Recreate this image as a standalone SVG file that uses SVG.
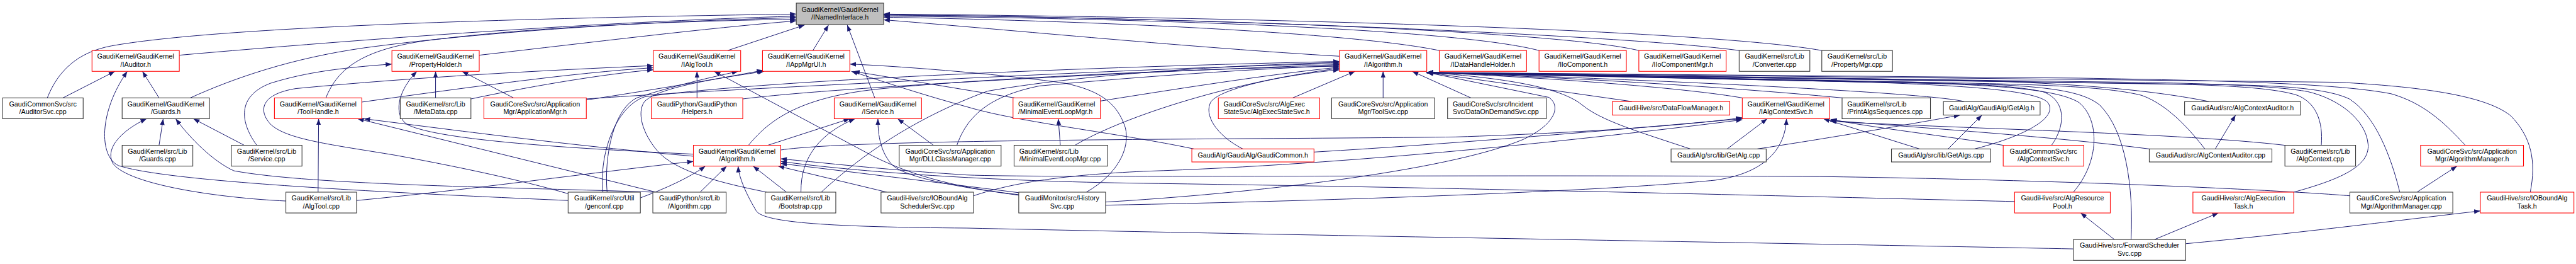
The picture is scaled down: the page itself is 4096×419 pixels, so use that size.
<svg xmlns="http://www.w3.org/2000/svg" width="4096" height="419" viewBox="0 0 4096 419">
<defs>
<style>
rect{fill:#fff;stroke-width:1.3}
.r rect{stroke:#ff0000}
.k rect{stroke:#333}
#n_root rect{fill:#bfbfbf;stroke:#333}
text{font-family:"Liberation Sans",Arial,Helvetica,sans-serif;font-size:13px;fill:#000}
.c{text-anchor:middle}
.l{text-anchor:start}
#edges path{fill:none;stroke:#191970;stroke-width:1.2;marker-end:url(#ah)}
</style>
<marker id="ah" markerUnits="userSpaceOnUse" markerWidth="13" markerHeight="10" refX="12" refY="5" orient="auto"><path d="M0,0.5 L12,5 L0,9.5 z" fill="#191970"/></marker>
</defs>
<rect x="0" y="0" width="4096" height="419" style="fill:#fff;stroke:none"/>
<g transform="scale(0.82647)">
<g id="edges">
<path d="M91,188 C112,135 150,100 215,88 C400,55 900,36 1532,27"/>
<path d="M345,106 C700,75 1150,42 1532,31"/>
<path d="M366,188 C450,150 560,112 700,92 C900,65 1200,42 1532,34"/>
<path d="M627,188 C650,130 700,95 820,78 C1000,55 1250,41 1532,37"/>
<path d="M922,106 C1150,80 1350,55 1532,40"/>
<path d="M1400,97 L1548,48"/>
<path d="M1564,97 L1594,48"/>
<path d="M1683,188 L1630,48"/>
<path d="M2577,108 C2300,92 1950,58 1700,38"/>
<path d="M2769,97 C2600,62 2100,40 1700,33"/>
<path d="M2961,97 C2800,55 2200,35 1700,31"/>
<path d="M3153,97 C3000,60 2300,34 1700,29"/>
<path d="M3346,97 C3150,70 2400,36 1700,28"/>
<path d="M3505,97 C3300,60 2500,34 1700,27"/>
<path d="M121,188 L221,137"/>
<path d="M306,188 L274,137"/>
<path d="M1093,385 C700,368 320,348 228,318 C190,300 190,215 245,137"/>
<path d="M306,279 L314,228"/>
<path d="M470,279 L372,228"/>
<path d="M550,386 C420,380 250,355 218,315 C200,285 235,250 282,228"/>
<path d="M1258,369 C1000,360 600,356 450,328 C410,310 365,265 338,228"/>
<path d="M494,279 C462,235 455,185 520,160 C590,138 660,130 754,123"/>
<path d="M838,188 L838,137"/>
<path d="M988,188 L889,137"/>
<path d="M1334,296 C1100,285 850,270 785,240 C755,222 765,175 802,137"/>
<path d="M612,369 L613,228"/>
<path d="M1334,300 C1100,280 860,248 700,228"/>
<path d="M1262,369 L688,228"/>
<path d="M1093,372 C1000,345 870,318 760,298 C640,278 550,268 520,238 C495,210 505,180 570,170 C800,148 1050,135 1257,126"/>
<path d="M696,196 C900,168 1100,140 1257,130"/>
<path d="M906,190 C1000,170 1150,143 1257,134"/>
<path d="M1341,188 L1341,137"/>
<path d="M1962,374 C1850,362 1760,340 1680,300 L1374,137"/>
<path d="M1168,369 C1162,300 1180,210 1225,188 C1300,163 1380,146 1420,137"/>
<path d="M1128,192 C1260,172 1390,150 1468,135"/>
<path d="M1475,369 C1390,352 1300,330 1265,290 C1235,255 1225,215 1240,195 C1270,165 1400,148 1470,137"/>
<path d="M1952,188 L1642,137"/>
<path d="M2090,369 C2150,335 2175,285 2165,245 C2150,200 2120,175 2050,160 C1950,145 1750,128 1635,123"/>
<path d="M2297,286 C2150,255 1960,235 1860,205 C1760,178 1680,150 1638,137"/>
<path d="M1477,279 L1635,228"/>
<path d="M1541,369 C1540,300 1580,255 1645,228"/>
<path d="M1961,375 C1850,360 1740,342 1715,315 C1695,292 1689,262 1689,228"/>
<path d="M1796,279 L1727,228"/>
<path d="M1440,279 C1480,230 1540,185 1700,170 C1900,150 2300,132 2577,127"/>
<path d="M1128,190 C1300,178 1500,168 1600,163 C1900,148 2300,128 2577,122"/>
<path d="M1429,190 C1600,168 2200,137 2577,124"/>
<path d="M1841,279 C1860,225 1900,185 2000,165 C2250,142 2450,131 2577,126"/>
<path d="M2117,194 C2300,165 2450,142 2577,129"/>
<path d="M2068,279 C2150,230 2350,160 2577,131"/>
<path d="M2391,286 C2340,260 2315,220 2330,195 C2350,170 2460,145 2577,134"/>
<path d="M1580,369 C1650,305 1750,230 1900,175 C2100,140 2400,124 2577,120"/>
<path d="M1160,369 C1152,295 1185,205 1240,186 C1500,150 2200,126 2577,118"/>
<path d="M2487,188 L2607,137"/>
<path d="M2661,188 L2661,137"/>
<path d="M2830,188 L2717,137"/>
<path d="M2127,388 C2400,372 2780,330 2930,268 C2990,240 3005,205 2980,187 L2745,139"/>
<path d="M3140,195 L2745,139"/>
<path d="M3252,286 C3150,252 3080,232 3042,200 C3000,168 2900,150 2745,139"/>
<path d="M3352,188 C3250,170 3000,150 2745,139"/>
<path d="M3545,188 C3300,165 3000,148 2745,139"/>
<path d="M3779,195 C3700,176 3100,150 2745,139"/>
<path d="M3799,286 C3900,260 3960,225 3940,197 C3920,175 3800,165 3600,158 L2745,139"/>
<path d="M3947,279 C3975,240 3975,192 3930,176 C3880,165 3800,162 3700,158 L2745,139"/>
<path d="M3989,369 C4040,310 4040,230 4000,197 C3960,172 3850,165 3720,160 L2745,139"/>
<path d="M4100,460 C4105,360 4090,252 4040,202 C4010,177 3950,168 3850,163 L2745,140"/>
<path d="M4242,286 C4200,232 4160,197 4120,183 C4060,168 3950,163 3800,160 L2745,140"/>
<path d="M4250,195 C4150,175 4000,158 3720,153 L2745,139"/>
<path d="M4466,279 C4470,232 4455,197 4420,183 C4380,170 4300,165 4200,162 L2745,140"/>
<path d="M4413,369 C4500,345 4560,320 4556,277 C4552,230 4500,190 4440,176 C4380,165 4250,160 4100,158 L2745,140"/>
<path d="M4617,369 C4600,300 4570,222 4520,190 C4480,171 4400,165 4300,163 L2745,140"/>
<path d="M4743,279 C4700,232 4660,197 4600,180 C4500,161 4300,155 4000,150 L2745,139"/>
<path d="M4868,369 C4880,310 4870,262 4830,222 C4780,182 4650,166 4500,158 L2745,139"/>
<path d="M3693,286 L3508,228"/>
<path d="M3854,279 C3750,262 3600,245 3522,229"/>
<path d="M4135,286 C3950,262 3700,246 3521,231"/>
<path d="M4396,279 C4200,256 3800,248 3521,233"/>
<path d="M1502,288 C1650,266 2400,268 2800,263 C3050,255 3250,240 3352,226"/>
<path d="M2528,292 C2800,276 3100,250 3352,228"/>
<path d="M1873,376 C1950,350 2050,336 2200,329 C2600,316 3050,268 3352,230"/>
<path d="M3323,286 L3400,228"/>
<path d="M2127,394 C2600,385 3100,366 3300,346 C3400,332 3435,282 3437,228"/>
<path d="M3381,286 C3500,268 3680,238 3771,221"/>
<path d="M3748,286 L3813,221"/>
<path d="M4262,286 L4301,221"/>
<path d="M4650,369 L4727,319"/>
<path d="M4068,460 L4003,409"/>
<path d="M4145,460 L4268,409"/>
<path d="M4205,468 C4400,450 4600,425 4772,405"/>
<path d="M2040,279 L2036,228"/>
<path d="M686,385 C900,365 1150,330 1334,310"/>
<path d="M1232,380 C1280,362 1325,342 1357,319"/>
<path d="M1347,369 L1398,319"/>
<path d="M1513,369 L1449,319"/>
<path d="M3989,478 C3500,468 2500,452 1860,438 C1600,436 1470,428 1455,405 C1440,380 1422,345 1420,319"/>
<path d="M1706,369 L1497,319"/>
<path d="M4521,376 C4400,366 4000,346 3500,339 C2800,335 2000,342 1860,336 C1700,326 1580,312 1502,305"/>
<path d="M3876,387 C3500,378 2800,360 2200,352 C1900,348 1650,330 1502,310"/>
<path d="M1960,370 C1800,350 1620,328 1502,314"/>
</g>
<g id="n_root"><rect x="1532" y="6" width="168" height="41"/><text class="c" x="1616" y="23">GaudiKernel/GaudiKernel<tspan x="1616" y="38">/INamedInterface.h</tspan></text></g>
<g id="n_iauditor" class="r"><rect x="177" y="97" width="168" height="40"/><text class="c" x="261" y="113">GaudiKernel/GaudiKernel<tspan x="261" y="128">/IAuditor.h</tspan></text></g>
<g id="n_propertyholder" class="r"><rect x="754" y="97" width="168" height="40"/><text class="c" x="838" y="113">GaudiKernel/GaudiKernel<tspan x="838" y="128">/PropertyHolder.h</tspan></text></g>
<g id="n_ialgtool" class="r"><rect x="1257" y="97" width="168" height="40"/><text class="c" x="1341" y="113">GaudiKernel/GaudiKernel<tspan x="1341" y="128">/IAlgTool.h</tspan></text></g>
<g id="n_iappmgrui" class="r"><rect x="1467" y="97" width="168" height="40"/><text class="c" x="1551" y="113">GaudiKernel/GaudiKernel<tspan x="1551" y="128">/IAppMgrUI.h</tspan></text></g>
<g id="n_ialgorithm" class="r"><rect x="2577" y="97" width="168" height="40"/><text class="c" x="2661" y="113">GaudiKernel/GaudiKernel<tspan x="2661" y="128">/IAlgorithm.h</tspan></text></g>
<g id="n_idatahandleholder" class="r"><rect x="2769" y="97" width="168" height="40"/><text class="c" x="2853" y="113">GaudiKernel/GaudiKernel<tspan x="2853" y="128">/IDataHandleHolder.h</tspan></text></g>
<g id="n_iiocomponent" class="r"><rect x="2961" y="97" width="168" height="40"/><text class="c" x="3045" y="113">GaudiKernel/GaudiKernel<tspan x="3045" y="128">/IIoComponent.h</tspan></text></g>
<g id="n_iiocomponentmgr" class="r"><rect x="3153" y="97" width="168" height="40"/><text class="c" x="3237" y="113">GaudiKernel/GaudiKernel<tspan x="3237" y="128">/IIoComponentMgr.h</tspan></text></g>
<g id="n_converter" class="k"><rect x="3346" y="97" width="136" height="40"/><text class="c" x="3414" y="113">GaudiKernel/src/Lib<tspan x="3414" y="128">/Converter.cpp</tspan></text></g>
<g id="n_propertymgr" class="k"><rect x="3505" y="97" width="136" height="40"/><text class="c" x="3573" y="113">GaudiKernel/src/Lib<tspan x="3573" y="128">/PropertyMgr.cpp</tspan></text></g>
<g id="n_auditorsvc" class="k"><rect x="5" y="188" width="155" height="40"/><text class="c" x="82.5" y="204">GaudiCommonSvc/src<tspan x="82.5" y="219">/AuditorSvc.cpp</tspan></text></g>
<g id="n_guards_h" class="k"><rect x="235" y="188" width="168" height="40"/><text class="c" x="319" y="204">GaudiKernel/GaudiKernel<tspan x="319" y="219">/Guards.h</tspan></text></g>
<g id="n_toolhandle" class="r"><rect x="528" y="188" width="168" height="40"/><text class="c" x="612" y="204">GaudiKernel/GaudiKernel<tspan x="612" y="219">/ToolHandle.h</tspan></text></g>
<g id="n_metadata" class="k"><rect x="770" y="188" width="136" height="40"/><text class="c" x="838" y="204">GaudiKernel/src/Lib<tspan x="838" y="219">/MetaData.cpp</tspan></text></g>
<g id="n_applicationmgr_h" class="r"><rect x="931" y="188" width="197" height="40"/><text class="c" x="1029.5" y="204">GaudiCoreSvc/src/Application<tspan x="1029.5" y="219">Mgr/ApplicationMgr.h</tspan></text></g>
<g id="n_helpers" class="r"><rect x="1253" y="188" width="176" height="40"/><text class="c" x="1341" y="204">GaudiPython/GaudiPython<tspan x="1341" y="219">/Helpers.h</tspan></text></g>
<g id="n_iservice" class="r"><rect x="1605" y="188" width="168" height="40"/><text class="c" x="1689" y="204">GaudiKernel/GaudiKernel<tspan x="1689" y="219">/IService.h</tspan></text></g>
<g id="n_minimaleventloopmgr_h" class="r"><rect x="1949" y="188" width="168" height="40"/><text class="l" x="1959" y="204">GaudiKernel/GaudiKernel<tspan x="1959" y="219">/MinimalEventLoopMgr.h</tspan></text></g>
<g id="n_algexecstatesvc" class="r"><rect x="2344" y="188" width="195" height="40"/><text class="l" x="2354" y="204">GaudiCoreSvc/src/AlgExec<tspan x="2354" y="219">StateSvc/AlgExecStateSvc.h</tspan></text></g>
<g id="n_toolsvc" class="k"><rect x="2562" y="188" width="198" height="40"/><text class="c" x="2661" y="204">GaudiCoreSvc/src/Application<tspan x="2661" y="219">Mgr/ToolSvc.cpp</tspan></text></g>
<g id="n_dataondemandsvc" class="k"><rect x="2785" y="188" width="190" height="40"/><text class="l" x="2795" y="204">GaudiCoreSvc/src/Incident<tspan x="2795" y="219">Svc/DataOnDemandSvc.cpp</tspan></text></g>
<g id="n_dataflowmanager" class="r"><rect x="3102" y="195" width="226" height="26"/><text class="c" x="3215" y="212">GaudiHive/src/DataFlowManager.h</text></g>
<g id="n_ialgcontextsvc" class="r"><rect x="3352" y="188" width="168" height="40"/><text class="c" x="3436" y="204">GaudiKernel/GaudiKernel<tspan x="3436" y="219">/IAlgContextSvc.h</tspan></text></g>
<g id="n_printalgssequences" class="k"><rect x="3544" y="188" width="170" height="40"/><text class="l" x="3554" y="204">GaudiKernel/src/Lib<tspan x="3554" y="219">/PrintAlgsSequences.cpp</tspan></text></g>
<g id="n_getalg_h" class="k"><rect x="3739" y="195" width="186" height="26"/><text class="c" x="3832" y="212">GaudiAlg/GaudiAlg/GetAlg.h</text></g>
<g id="n_algcontextauditor_h" class="k"><rect x="4203" y="195" width="223" height="26"/><text class="c" x="4314.5" y="212">GaudiAud/src/AlgContextAuditor.h</text></g>
<g id="n_guards_cpp" class="k"><rect x="235" y="279" width="136" height="40"/><text class="c" x="303" y="295">GaudiKernel/src/Lib<tspan x="303" y="310">/Guards.cpp</tspan></text></g>
<g id="n_service_cpp" class="k"><rect x="445" y="279" width="136" height="40"/><text class="c" x="513" y="295">GaudiKernel/src/Lib<tspan x="513" y="310">/Service.cpp</tspan></text></g>
<g id="n_algorithm_h" class="r"><rect x="1334" y="279" width="168" height="40"/><text class="c" x="1418" y="295">GaudiKernel/GaudiKernel<tspan x="1418" y="310">/Algorithm.h</tspan></text></g>
<g id="n_dllclassmanager" class="k"><rect x="1730" y="279" width="196" height="40"/><text class="c" x="1828" y="295">GaudiCoreSvc/src/Application<tspan x="1828" y="310">Mgr/DLLClassManager.cpp</tspan></text></g>
<g id="n_minimaleventloopmgr_cpp" class="k"><rect x="1951" y="279" width="180" height="40"/><text class="l" x="1961" y="295">GaudiKernel/src/Lib<tspan x="1961" y="310">/MinimalEventLoopMgr.cpp</tspan></text></g>
<g id="n_gaudicommon" class="r"><rect x="2293" y="286" width="235" height="25"/><text class="c" x="2410.5" y="303">GaudiAlg/GaudiAlg/GaudiCommon.h</text></g>
<g id="n_getalg_cpp" class="k"><rect x="3215" y="286" width="183" height="25"/><text class="c" x="3306.5" y="303">GaudiAlg/src/lib/GetAlg.cpp</text></g>
<g id="n_getalgs_cpp" class="k"><rect x="3639" y="286" width="191" height="25"/><text class="c" x="3734.5" y="303">GaudiAlg/src/lib/GetAlgs.cpp</text></g>
<g id="n_algcontextsvc_h" class="r"><rect x="3854" y="279" width="155" height="40"/><text class="c" x="3931.5" y="295">GaudiCommonSvc/src<tspan x="3931.5" y="310">/AlgContextSvc.h</tspan></text></g>
<g id="n_algcontextauditor_cpp" class="k"><rect x="4135" y="286" width="236" height="25"/><text class="c" x="4253" y="303">GaudiAud/src/AlgContextAuditor.cpp</text></g>
<g id="n_algcontext_cpp" class="k"><rect x="4396" y="279" width="136" height="40"/><text class="c" x="4464" y="295">GaudiKernel/src/Lib<tspan x="4464" y="310">/AlgContext.cpp</tspan></text></g>
<g id="n_algorithmmanager_h" class="r"><rect x="4657" y="279" width="198" height="40"/><text class="c" x="4756" y="295">GaudiCoreSvc/src/Application<tspan x="4756" y="310">Mgr/AlgorithmManager.h</tspan></text></g>
<g id="n_algtool_cpp" class="k"><rect x="550" y="369" width="136" height="40"/><text class="c" x="618" y="385">GaudiKernel/src/Lib<tspan x="618" y="400">/AlgTool.cpp</tspan></text></g>
<g id="n_genconf" class="k"><rect x="1093" y="369" width="139" height="40"/><text class="c" x="1162.5" y="385">GaudiKernel/src/Util<tspan x="1162.5" y="400">/genconf.cpp</tspan></text></g>
<g id="n_gp_algorithm_cpp" class="k"><rect x="1256" y="369" width="141" height="40"/><text class="c" x="1326.5" y="385">GaudiPython/src/Lib<tspan x="1326.5" y="400">/Algorithm.cpp</tspan></text></g>
<g id="n_bootstrap" class="k"><rect x="1472" y="369" width="136" height="40"/><text class="c" x="1540" y="385">GaudiKernel/src/Lib<tspan x="1540" y="400">/Bootstrap.cpp</tspan></text></g>
<g id="n_ioboundalgschedulersvc" class="k"><rect x="1695" y="369" width="178" height="40"/><text class="c" x="1784" y="385">GaudiHive/src/IOBoundAlg<tspan x="1784" y="400">SchedulerSvc.cpp</tspan></text></g>
<g id="n_historysvc" class="k"><rect x="1960" y="369" width="167" height="40"/><text class="c" x="2043.5" y="385">GaudiMonitor/src/History<tspan x="2043.5" y="400">Svc.cpp</tspan></text></g>
<g id="n_algresourcepool" class="r"><rect x="3876" y="369" width="184" height="40"/><text class="c" x="3968" y="385">GaudiHive/src/AlgResource<tspan x="3968" y="400">Pool.h</tspan></text></g>
<g id="n_algexecutiontask" class="r"><rect x="4219" y="369" width="194" height="40"/><text class="c" x="4316" y="385">GaudiHive/src/AlgExecution<tspan x="4316" y="400">Task.h</tspan></text></g>
<g id="n_algorithmmanager_cpp" class="k"><rect x="4521" y="369" width="198" height="40"/><text class="c" x="4620" y="385">GaudiCoreSvc/src/Application<tspan x="4620" y="400">Mgr/AlgorithmManager.cpp</tspan></text></g>
<g id="n_ioboundalgtask" class="r"><rect x="4772" y="369" width="180" height="40"/><text class="c" x="4862" y="385">GaudiHive/src/IOBoundAlg<tspan x="4862" y="400">Task.h</tspan></text></g>
<g id="n_forwardschedulersvc" class="k"><rect x="3989" y="460" width="216" height="40"/><text class="c" x="4097" y="476">GaudiHive/src/ForwardScheduler<tspan x="4097" y="491">Svc.cpp</tspan></text></g>
</g>
</svg>
